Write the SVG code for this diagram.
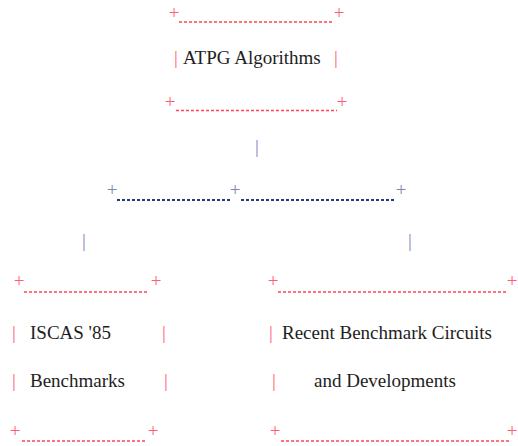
<svg xmlns="http://www.w3.org/2000/svg" width="518" height="446" viewBox="0 0 518 446">
<style>
text{font-family:"Liberation Serif","Times New Roman",serif;font-size:19px}
.lbl{fill:#1e1e1e}
.pk{fill:#ff5c7a;text-anchor:middle}
.bl{fill:#7f84bb;text-anchor:middle}
.rd{stroke:#ff4452;stroke-width:1.6;stroke-dasharray:3 2;fill:none}
.nv{stroke:#233a82;stroke-width:1.8;stroke-dasharray:3 2;fill:none}
</style>
<rect width="518" height="446" fill="#fff"/>
<g id="atpg">
<text class="pk" x="174" y="18.5">+</text>
<text class="pk" x="339" y="18.5">+</text>
<line class="rd" x1="179" y1="22" x2="334" y2="22"/>
<text class="pk" x="176" y="64">|</text>
<text class="lbl" x="183" y="64">ATPG Algorithms</text>
<text class="pk" x="336" y="64">|</text>
<text class="pk" x="170" y="107.5">+</text>
<text class="pk" x="342" y="107.5">+</text>
<line class="rd" x1="176" y1="110.5" x2="337" y2="110.5"/>
</g>
<g id="connectors">
<text class="bl" x="257" y="153">|</text>
<text class="bl" x="112" y="195.5">+</text>
<text class="bl" x="235" y="195.5">+</text>
<text class="bl" x="401" y="195.5">+</text>
<line class="nv" x1="117" y1="200" x2="231" y2="200"/>
<line class="nv" x1="241" y1="200" x2="396" y2="200"/>
<text class="bl" x="84" y="247">|</text>
<text class="bl" x="410" y="247">|</text>
</g>
<g id="iscas">
<text class="pk" x="19" y="286.5">+</text>
<text class="pk" x="156" y="286.5">+</text>
<line class="rd" x1="24" y1="292" x2="149" y2="292"/>
<text class="pk" x="14" y="339">|</text>
<text class="lbl" x="30" y="339">ISCAS '85</text>
<text class="pk" x="164" y="339">|</text>
<text class="pk" x="14" y="387">|</text>
<text class="lbl" x="30" y="387">Benchmarks</text>
<text class="pk" x="166" y="387">|</text>
<text class="pk" x="15" y="436.5">+</text>
<text class="pk" x="153" y="436.5">+</text>
<line class="rd" x1="22" y1="441" x2="147" y2="441"/>
</g>
<g id="recent">
<text class="pk" x="273" y="287">+</text>
<text class="pk" x="512" y="287">+</text>
<line class="rd" x1="278" y1="292" x2="508" y2="292"/>
<text class="pk" x="271" y="339">|</text>
<text class="lbl" x="282" y="339">Recent Benchmark Circuits</text>
<text class="pk" x="274" y="387">|</text>
<text class="lbl" x="314" y="387">and Developments</text>
<text class="pk" x="275" y="436.5">+</text>
<text class="pk" x="512" y="436.5">+</text>
<line class="rd" x1="281" y1="441" x2="509" y2="441"/>
</g>
</svg>
